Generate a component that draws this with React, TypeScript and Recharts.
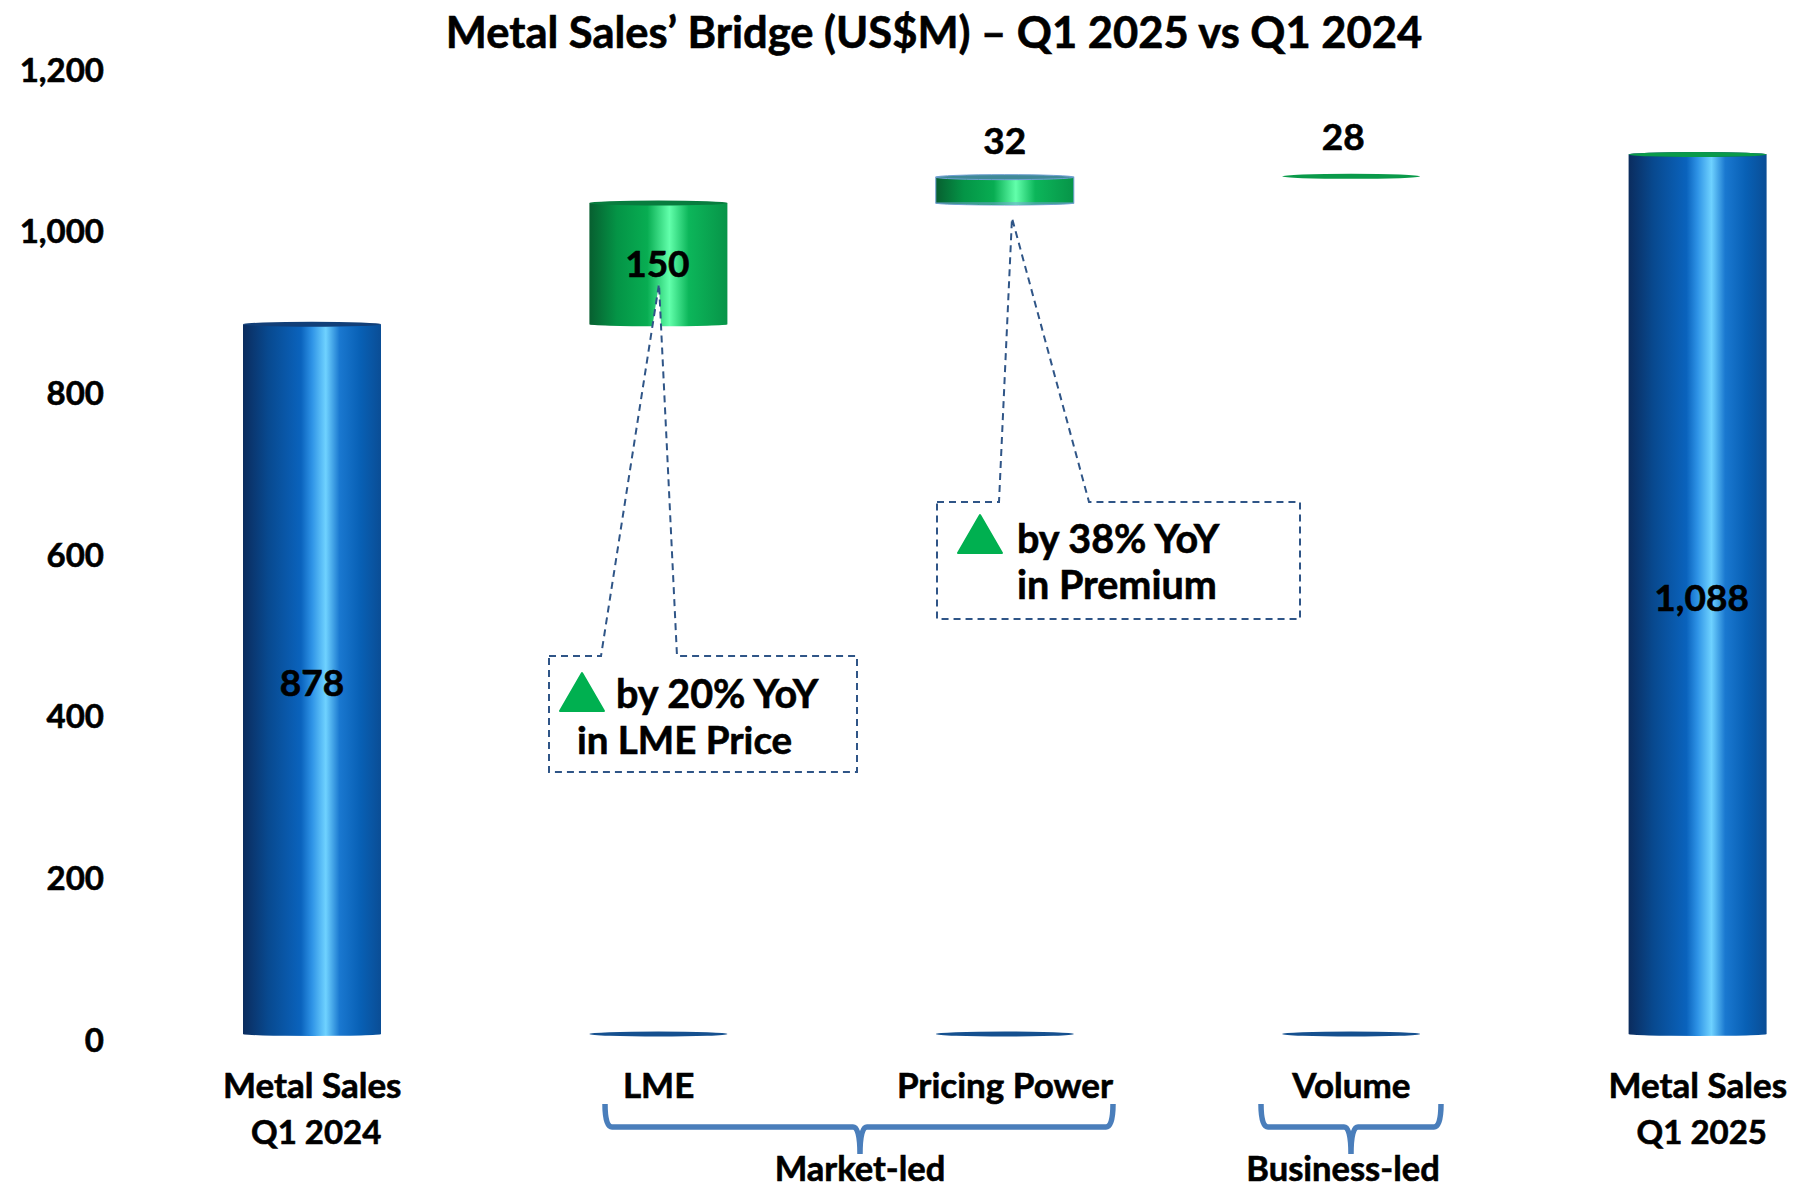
import React from "react";
import { BarChart, Bar, XAxis, YAxis, LabelList } from "recharts";

const categories = ["Metal Sales|Q1 2024", "LME", "Pricing Power", "Volume", "Metal Sales|Q1 2025"];
const totals = [878, 0, 0, 0, 1088];
const spacers = [0, 878, 1028, 1061, 0];
const increases = [null, 150, 32, 0, 0];
const totalLabels = ["878", "", "", "", "1,088"];
const increaseLabels = ["", "150", "32", "28", ""];
const yTicks = [0, 200, 400, 600, 800, 1000, 1200];

const rows = categories.map((name, i) => ({
  name,
  total: totals[i],
  spacer: spacers[i],
  increase: increases[i],
  totalLabel: totalLabels[i],
  increaseLabel: increaseLabels[i],
}));

const FONT = "Lato, Carlito, sans-serif";
const INK = "#000";
const DASH = "#2f5587";
const BRACKET = "#4a7ebb";
// Lato bold is a little lighter than the reference face
const bold = { fontFamily: FONT, fontWeight: 700, fill: INK, stroke: INK, strokeWidth: 0.6 };

function Cylinder({ x, y, width, height, payload, kind }: any) {
  if (kind === "green" && payload.increase == null) return null;
  const fill = kind === "blue" ? "url(#blueBar)" : "url(#greenBar)";
  const lid = kind === "blue" ? "#123f78" : "#087c3e";
  const rim = payload.name === "Pricing Power" ? "#6f9fd2" : "none";
  const cx = x + width / 2;
  if (height < 1) {
    return <ellipse cx={cx} cy={y} rx={width / 2} ry={2.5} fill={kind === "blue" ? "#15508f" : "#0a9a4a"} />;
  }
  return (
    <g>
      <ellipse cx={cx} cy={y + height} rx={width / 2} ry={2} fill={fill} stroke={rim} />
      <rect x={x} y={y} width={width} height={height} fill={fill} stroke={rim} strokeWidth={rim === "none" ? 0 : 1} />
      <ellipse cx={cx} cy={y} rx={width / 2} ry={2.5} fill={rim === "none" ? lid : "#3f8a97"} stroke={rim} />
    </g>
  );
}

function CategoryTick({ x, y, payload }: any) {
  const lines = String(payload.value).split("|");
  return (
    <text textAnchor="middle" fontSize={35} {...bold}>
      {lines.map((line, i) => (
        <tspan key={line} x={i === 1 ? x + 4 : x} y={y + 56 + i * 46} fontSize={i === 1 ? 33 : 35}>
          {line}
        </tspan>
      ))}
    </text>
  );
}

function TotalLabel({ x, y, width, height, value }: any) {
  if (!value) return null;
  return (
    <text x={x + width / 2 + (value === "878" ? 0 : 4)} y={y + height / 2 + 17} textAnchor="middle" fontSize={37} {...bold}>
      {value}
    </text>
  );
}

function IncreaseLabel({ x, y, width, height, value }: any) {
  if (!value) return null;
  const cx = x + width / 2;
  if (value === "150") {
    return (
      <text x={cx - 1} y={y + height / 2 + 13} textAnchor="middle" fontSize={37} {...bold}>
        {value}
      </text>
    );
  }
  return (
    <text x={value === "28" ? cx - 8 : cx} y={value === "28" ? y - 26 : y - 23} textAnchor="middle" fontSize={37} {...bold}>
      {value}
    </text>
  );
}

function Callouts() {
  const note = { ...bold, fontSize: 39.5 };
  return (
    <svg width={1796} height={1187} style={{ position: "absolute", left: 0, top: 0, pointerEvents: "none" }}>
      <text x={934} y={48} textAnchor="middle" fontSize={43.5} {...bold}>
        Metal Sales’ Bridge (US$M) – Q1 2025 vs Q1 2024
      </text>

      <path d="M549,656 L601,656 L659,284 L677,656 L857,656 L857,772 L549,772 Z" fill="#fff" stroke={DASH} strokeWidth={2} strokeDasharray="7 5" />
      <path d="M560,711 L582,673 L604,711 Z" fill="#00b050" stroke="#00b050" strokeWidth={2} strokeLinejoin="round" />
      <text {...note} x={616} y={708}>by 20% YoY</text>
      <text {...note} x={577} y={754} fontSize={38.5}>in LME Price</text>

      <path d="M937,502 L999,502 L1012,218 L1089,502 L1300,502 L1300,619 L937,619 Z" fill="#fff" stroke={DASH} strokeWidth={2} strokeDasharray="7 5" />
      <path d="M958,553 L980,515 L1002,553 Z" fill="#00b050" stroke="#00b050" strokeWidth={2} strokeLinejoin="round" />
      <text {...note} x={1017} y={553}>by 38% YoY</text>
      <text {...note} x={1017} y={599}>in Premium</text>

      <path d="M605,1104 Q605,1127 612,1127 L853,1127 Q860,1127 860,1154 Q860,1127 867,1127 L1106,1127 Q1113,1127 1113,1104" fill="none" stroke={BRACKET} strokeWidth={5.5} />
      <path d="M1261,1104 Q1261,1127 1268,1127 L1344,1127 Q1351,1127 1351,1154 Q1351,1127 1358,1127 L1434,1127 Q1441,1127 1441,1104" fill="none" stroke={BRACKET} strokeWidth={5.5} />
      <text x={860} y={1181} textAnchor="middle" fontSize={34.5} {...bold}>Market-led</text>
      <text x={1343} y={1181} textAnchor="middle" fontSize={34.5} {...bold}>Business-led</text>
    </svg>
  );
}

export default function App() {
  return (
    <div style={{ position: "absolute", left: 0, top: 0, width: 1796, height: 1187, overflow: "hidden", background: "#fff" }}>
      <BarChart
        width={1900}
        height={1187}
        data={rows}
        barSize={138}
        margin={{ top: 64, right: 29, bottom: 0, left: 0 }}
      >
        <defs>
          <linearGradient id="blueBar" x1="0" y1="0" x2="1" y2="0">
            <stop offset="0%" stopColor="#0b2c5e" />
            <stop offset="18%" stopColor="#08498f" />
            <stop offset="42%" stopColor="#0a63bd" />
            <stop offset="50%" stopColor="#2e93e6" />
            <stop offset="60%" stopColor="#6fd2ff" />
            <stop offset="70%" stopColor="#1a78d0" />
            <stop offset="85%" stopColor="#0860b5" />
            <stop offset="100%" stopColor="#0a4d95" />
          </linearGradient>
          <linearGradient id="greenBar" x1="0" y1="0" x2="1" y2="0">
            <stop offset="0%" stopColor="#075f30" />
            <stop offset="20%" stopColor="#049446" />
            <stop offset="42%" stopColor="#08ad52" />
            <stop offset="58%" stopColor="#62ffab" />
            <stop offset="72%" stopColor="#0cb65a" />
            <stop offset="100%" stopColor="#079448" />
          </linearGradient>
        </defs>
        <XAxis dataKey="name" height={153} axisLine={false} tickLine={false} interval={0} tick={<CategoryTick />} />
        <YAxis
          domain={[0, 1200]}
          ticks={yTicks}
          axisLine={false}
          tickLine={false}
          width={139}
          tickMargin={29}
          tickFormatter={(v) => v.toLocaleString("en-US")}
          tick={{ ...bold, fontSize: 33, dy: 6 }}
        />
        <Bar dataKey="total" stackId="bridge" isAnimationActive={false} shape={<Cylinder kind="blue" />}>
          <LabelList dataKey="totalLabel" content={<TotalLabel />} />
        </Bar>
        <Bar dataKey="spacer" stackId="bridge" fill="none" isAnimationActive={false} />
        <Bar dataKey="increase" stackId="bridge" isAnimationActive={false} shape={<Cylinder kind="green" />}>
          <LabelList dataKey="increaseLabel" content={<IncreaseLabel />} />
        </Bar>
      </BarChart>
      <Callouts />
    </div>
  );
}
